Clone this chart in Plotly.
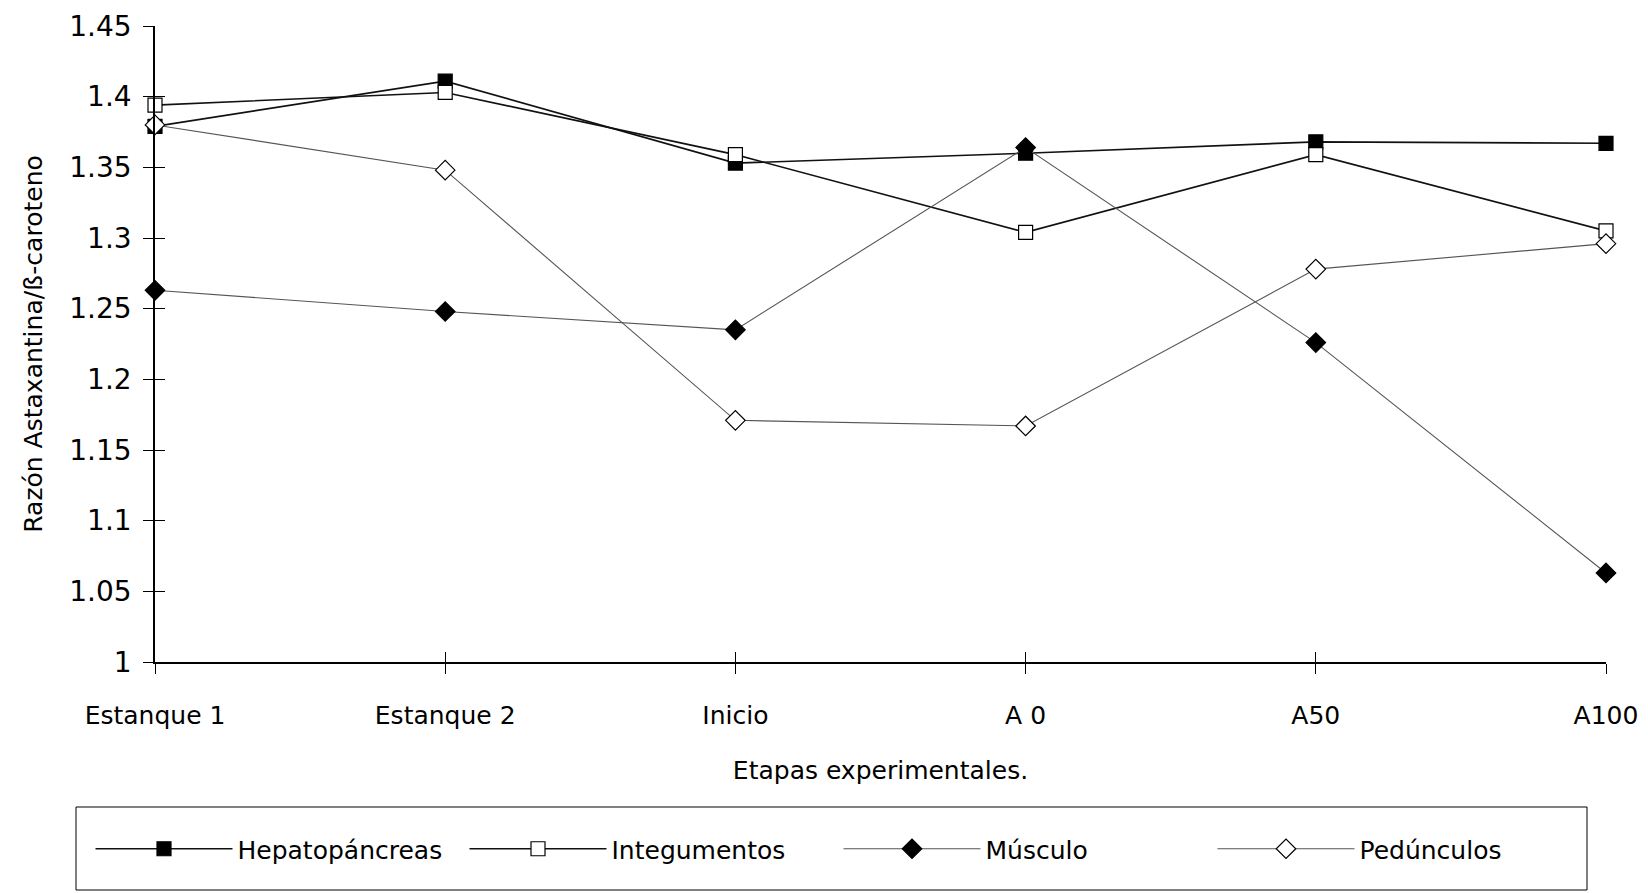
import plotly.graph_objects as go

categories = ["Estanque 1", "Estanque 2", "Inicio", "A 0", "A50", "A100"]
hepatopancreas = [1.379, 1.411, 1.353, 1.360, 1.368, 1.367]
integumentos = [1.394, 1.403, 1.359, 1.304, 1.359, 1.305]
musculo = [1.263, 1.248, 1.235, 1.364, 1.226, 1.063]
pedunculos = [1.380, 1.348, 1.171, 1.167, 1.278, 1.296]
y_ticks = [1, 1.05, 1.1, 1.15, 1.2, 1.25, 1.3, 1.35, 1.4, 1.45]
y_tick_text = ["1", "1.05", "1.1", "1.15", "1.2", "1.25", "1.3", "1.35", "1.4", "1.45"]

FONT = "DejaVu Sans"
OFF = 8  # page body margin
W, H = 1648 - OFF, 893 - OFF
L, R, T, B = 155 - OFF, 42, 26 - OFF, 231
PW, PH = W - L - R, H - T - B
BOT = H - B  # plot bottom in figure px


def py(y_view):
    """paper y for a viewport y pixel"""
    return -((y_view - OFF) - BOT) / PH


def px(x_view):
    return ((x_view - OFF) - L) / PW


series = [
    ("Hepatopáncreas", hepatopancreas, "square", "black", "#111", 1.6, 14),
    ("Integumentos", integumentos, "square", "white", "#111", 1.6, 14),
    ("Músculo", musculo, "diamond", "black", "#555", 1.1, 15),
    ("Pedúnculos", pedunculos, "diamond", "white", "#555", 1.1, 15),
]

fig = go.Figure()
for name, vals, sym, fill, lc, lw, ms in series:
    fig.add_trace(go.Scatter(
        x=list(range(len(categories))), y=vals, name=name,
        mode="lines+markers",
        line=dict(color=lc, width=lw),
        marker=dict(symbol=sym, size=ms, color=fill, line=dict(color="black", width=1.2)),
        cliponaxis=False,
    ))

fig.update_layout(
    width=W, height=H,
    margin=dict(l=L, r=R, t=T, b=B, autoexpand=False),
    paper_bgcolor="white", plot_bgcolor="white",
    font=dict(family=FONT, size=25, color="black"),
    showlegend=True,
    legend=dict(
        orientation="h", x=px(90.5), xanchor="left",
        y=py(849), yanchor="middle",
        entrywidth=222, entrywidthmode="pixels",
        itemwidth=137, font=dict(size=25),
        bgcolor="rgba(0,0,0,0)",
    ),
    xaxis=dict(
        range=[0, 5], tickmode="array", automargin=False,
        tickvals=list(range(len(categories))), ticktext=categories,
        showline=True, linecolor="black", linewidth=1.5,
        ticks="outside", ticklen=10, tickcolor="black", tickwidth=1.2,
        showgrid=False, zeroline=False,
        ticklabelstandoff=20,
        title=dict(text="Etapas experimentales.", standoff=33, font=dict(size=25)),
    ),
    yaxis=dict(
        range=[1, 1.45], tickmode="array", tickvals=y_ticks, ticktext=y_tick_text,
        automargin=False,
        showline=True, linecolor="black", linewidth=1.5,
        ticks="outside", ticklen=10, tickcolor="black", tickwidth=1.2,
        showgrid=False, zeroline=False,
        ticklabelstandoff=6, tickfont=dict(size=28),
        title=dict(text="Razón Astaxantina/ß-caroteno", standoff=20, font=dict(size=25)),
    ),
    xaxis2=dict(overlaying="x", range=[0, 5], tickmode="array", automargin=False,
                tickvals=list(range(len(categories))), showticklabels=False,
                ticks="inside", ticklen=10, tickcolor="black", tickwidth=1.2,
                showgrid=False, zeroline=False, showline=False),
    yaxis2=dict(overlaying="y", range=[1, 1.45], tickmode="array", tickvals=y_ticks,
                automargin=False,
                showticklabels=False, ticks="inside", ticklen=10, tickcolor="black",
                tickwidth=1.2, showgrid=False, zeroline=False, showline=False),
)
# invisible helper trace to activate the inside-tick axes
fig.add_trace(go.Scatter(x=[None], y=[None], xaxis="x2", yaxis="y2",
                         showlegend=False, hoverinfo="skip"))

# legend frame
fig.add_shape(type="rect", xref="paper", yref="paper",
              x0=px(76), x1=px(1587), y0=py(890), y1=py(807),
              line=dict(color="black", width=1))

fig.write_html("out.html")
